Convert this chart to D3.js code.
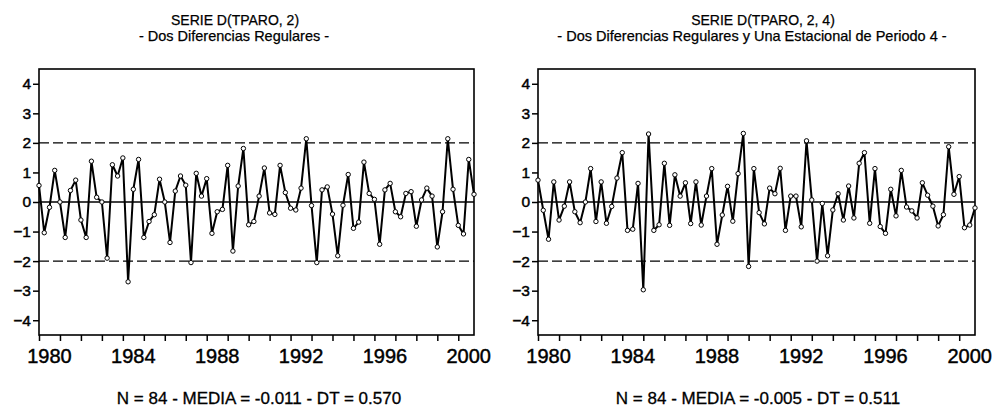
<!DOCTYPE html>
<html>
<head>
<meta charset="utf-8">
<script src="https://cdn.jsdelivr.net/npm/d3@7/dist/d3.min.js"></script>
<style>
	body { margin: 0; background: #fff; }
	svg text { font-family: "Liberation Sans", Arial, sans-serif; fill: #000; }
	.heavy { stroke: #000; stroke-width: 0.45px; }
</style>
</head>
<body>
<svg id="chart" width="995" height="408"></svg>
<script>
// quarterly observations, 1980Q1 .. 2000Q4
const startYear = 1980;
const quarters = d3.range(84).map(i => startYear + Math.floor(i / 4) + (i % 4) / 4);

// D(TPARO, 2)
const serieD2 = [
	0.56, -1.04, -0.18, 1.07, 0.00, -1.20, 0.39, 0.74, -0.61, -1.20, 1.38, 0.16,
	0.00, -1.90, 1.26, 0.88, 1.49, -2.70, 0.43, 1.44, -1.20, -0.66, -0.43, 0.77,
	0.00, -1.37, 0.37, 0.88, 0.57, -2.05, 0.97, 0.20, 0.79, -1.06, -0.33, -0.25,
	1.24, -1.66, 0.54, 1.81, -0.77, -0.66, 0.20, 1.15, -0.37, -0.42, 1.24, 0.32,
	-0.21, -0.27, 0.47, 2.14, -0.12, -2.05, 0.41, 0.51, -0.41, -1.82, -0.11, 0.93,
	-0.89, -0.68, 1.35, 0.29, 0.09, -1.43, 0.41, 0.63, -0.33, -0.50, 0.29, 0.35,
	-0.82, 0.07, 0.47, 0.20, -1.52, -0.33, 2.14, 0.43, -0.79, -1.08, 1.44, 0.26
];

// D(TPARO, 2, 4)
const serieD24 = [
	0.74, -0.28, -1.26, 0.68, -0.61, -0.14, 0.68, -0.33, -0.70, 0.00, 1.13, -0.66,
	0.68, -0.72, -0.15, 0.81, 1.67, -0.96, -0.92, 0.63, -2.97, 2.30, -0.96, -0.77,
	1.31, -0.79, 0.92, 0.20, 0.65, -0.73, 0.68, -0.78, 0.20, 1.13, -1.43, -0.44,
	0.53, -0.65, 0.96, 2.32, -2.18, 1.13, -0.36, -0.74, 0.47, 0.28, 1.14, -0.96,
	0.20, 0.20, -0.84, 2.07, 0.07, -2.00, -0.05, -1.82, -0.27, 0.28, -0.61, 0.54,
	-0.54, 1.31, 1.67, -0.72, 1.13, -0.83, -1.06, 0.43, -0.47, 1.07, -0.17, -0.30,
	-0.54, 0.65, 0.23, -0.14, -0.81, -0.43, 1.87, 0.26, 0.86, -0.87, -0.78, -0.20
];

const yearTicks = d3.range(1980, 2001);
const yearLabels = [1980, 1984, 1988, 1992, 1996, 2000];
const yTicks = [-4, -3, -2, -1, 0, 1, 2, 3, 4];
const bandLines = [-2, 2];

const titles = ["SERIE D(TPARO, 2)", "SERIE D(TPARO, 2, 4)"];
const subtitles = ["- Dos Diferencias Regulares -",
	"- Dos Diferencias Regulares y Una Estacional de Periodo 4 -"];
const footers = ["N = 84 - MEDIA = -0.011 - DT = 0.570",
	"N = 84 - MEDIA = -0.005 - DT = 0.511"];

const svg = d3.select("#chart");

function drawPanel(values, opts) {
	const g = svg.append("g");
	const x = d3.scaleLinear().domain([quarters[0], quarters[quarters.length - 1]]).range([opts.left, opts.right]);
	const y = d3.scaleLinear().domain([-4.5, 4.5]).range([opts.bottom, opts.top]);

	// titles
	g.append("text").attr("x", opts.titleX).attr("y", 25)
		.attr("text-anchor", "middle").attr("class", "heavy").style("font-size", "14px").style("stroke-width", "0.25px").text(opts.title);
	g.append("text").attr("x", opts.subX).attr("y", 41)
		.attr("text-anchor", "middle").attr("class", "heavy").style("font-size", "14.5px").style("stroke-width", "0.25px").text(opts.subtitle);

	// reference lines
	g.selectAll(".band").data(bandLines).enter().append("line")
		.attr("x1", opts.left).attr("x2", opts.right)
		.attr("y1", d => y(d)).attr("y2", d => y(d))
		.attr("stroke", "#000").attr("stroke-width", 1.4)
		.attr("stroke-dasharray", "10,4");
	g.append("line")
		.attr("x1", opts.left).attr("x2", opts.right)
		.attr("y1", y(0)).attr("y2", y(0))
		.attr("stroke", "#000").attr("stroke-width", 1.5);

	// y axis
	const yAxis = g.append("g").attr("transform", "translate(" + opts.left + ",0)")
		.call(d3.axisLeft(y).tickValues(yTicks).tickSize(6).tickPadding(2).tickFormat(d3.format("d")));
	yAxis.select(".domain").remove();
	yAxis.selectAll("line").attr("stroke-width", 1.5);
	yAxis.selectAll("text").attr("class", "heavy").attr("fill", "#000")
		.style("font-size", "15.5px").style("font-family", "Liberation Sans, Arial, sans-serif");

	// x axis
	const xAxis = g.append("g").attr("transform", "translate(0," + opts.bottom + ")")
		.call(d3.axisBottom(x).tickValues(yearTicks).tickSize(6).tickFormat(""));
	xAxis.select(".domain").remove();
	xAxis.selectAll("line").attr("stroke-width", 1.5);
	g.selectAll(".yearLabel").data(yearLabels).enter().append("text")
		.attr("class", "heavy")
		.attr("x", d => x(d + 0.5))
		.attr("y", opts.bottom + 28)
		.attr("text-anchor", "middle")
		.style("font-size", "20px")
		.text(d => d);

	// frame
	g.append("rect")
		.attr("x", opts.left).attr("y", opts.top)
		.attr("width", opts.right - opts.left).attr("height", opts.bottom - opts.top)
		.attr("fill", "none").attr("stroke", "#000").attr("stroke-width", 1.6);

	// series
	const line = d3.line().x((d, i) => x(quarters[i])).y(d => y(d));
	g.append("path").datum(values)
		.attr("d", line).attr("fill", "none")
		.attr("stroke", "#000").attr("stroke-width", 2).attr("stroke-linejoin", "round");
	g.selectAll(".pt").data(values).enter().append("circle")
		.attr("cx", (d, i) => x(quarters[i])).attr("cy", d => y(d))
		.attr("r", 2.2).attr("fill", "#fff").attr("stroke", "#000").attr("stroke-width", 1);

	// footer
	g.append("text").attr("x", opts.footX).attr("y", 404)
		.attr("text-anchor", "middle").attr("class", "heavy").style("stroke-width", "0.3px")
		.style("font-size", "17px").text(opts.footer);
}

drawPanel(serieD2, {
	left: 39, right: 474, top: 69, bottom: 335,
	title: titles[0], subtitle: subtitles[0], footer: footers[0],
	titleX: 235, subX: 234, footX: 259
});
drawPanel(serieD24, {
	left: 538, right: 975, top: 69, bottom: 335,
	title: titles[1], subtitle: subtitles[1], footer: footers[1],
	titleX: 763, subX: 752, footX: 758
});
</script>
</body>
</html>
